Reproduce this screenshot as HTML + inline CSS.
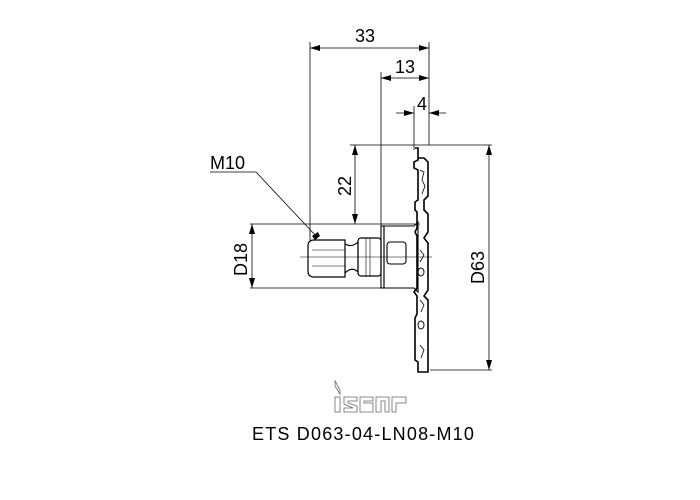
<!DOCTYPE html>
<html><head><style>
html,body{margin:0;padding:0;background:#fff;width:700px;height:500px;overflow:hidden}
</style></head><body>
<svg width="700" height="500" xmlns="http://www.w3.org/2000/svg" font-family="Liberation Sans, sans-serif">
<defs>
<marker id="a" markerWidth="10" markerHeight="6" refX="10" refY="3" orient="auto-start-reverse" markerUnits="userSpaceOnUse"><path d="M0,0 L10,3 L0,6z" fill="#000"/></marker>
</defs>
<g stroke="#000" stroke-width="0.8" fill="none">
<line x1="310" y1="42" x2="310" y2="240"/>
<line x1="429" y1="42" x2="429" y2="145"/>
<line x1="381" y1="72" x2="381" y2="240"/>
<line x1="414" y1="106" x2="414" y2="150"/>
<line x1="310" y1="48" x2="429" y2="48" marker-start="url(#a)" marker-end="url(#a)"/>
<line x1="381" y1="78" x2="429" y2="78" marker-start="url(#a)" marker-end="url(#a)"/>
<line x1="396" y1="113" x2="414" y2="113" marker-end="url(#a)"/>
<line x1="446" y1="113" x2="429" y2="113" marker-end="url(#a)"/>
<line x1="350" y1="145" x2="492" y2="145"/>
<line x1="355" y1="145" x2="355" y2="224" marker-start="url(#a)" marker-end="url(#a)"/>
<line x1="250" y1="224" x2="420" y2="224"/>
<line x1="250" y1="288" x2="385" y2="288"/>
<line x1="252" y1="224" x2="252" y2="288" marker-start="url(#a)" marker-end="url(#a)"/>
<line x1="489" y1="145" x2="489" y2="370" marker-start="url(#a)" marker-end="url(#a)"/>
<line x1="430" y1="370" x2="492" y2="370"/>
<line x1="210" y1="172" x2="256" y2="172"/>
<line x1="256" y1="172" x2="316" y2="236"/>
<line x1="300" y1="257" x2="432" y2="257" stroke-width="0.5"/>
<path d="M345,240 L314,240 Q308,240 308,246 L308,271 Q308,277 314,277 L345,277 Z" stroke-width="1.2"/>
<line x1="312" y1="250" x2="345" y2="250" stroke-width="0.5"/>
<line x1="312" y1="266" x2="345" y2="266" stroke-width="0.5"/>
<path d="M345,244 Q352,248 358,242 L358,272 Q352,266 345,273" stroke-width="1.1"/>
<rect x="358" y="238" width="23" height="38" rx="3" stroke-width="1.2"/>
<line x1="366" y1="238" x2="366" y2="276" stroke-width="0.6"/>
<line x1="370" y1="238" x2="370" y2="276" stroke-width="0.6"/>
<rect x="381" y="226" width="3" height="62" stroke-width="1.1"/>
<path d="M384,226 L414,226 L418,222 L418,292 L414,288 L384,288 Z" stroke-width="1.1"/>
<rect x="387" y="242" width="19" height="22" rx="3" stroke-width="1.1"/>
<path d="M415,148 L418,148 L418,160 L414,162 L414,168 L418,170 L418,200 L415,202 L415,210 L417,212 L417,228 L415,232 L417,236 L417,288 L414,292 L417,296 L417,314 L415,318 L415,360 L418,362 L418,372 L428,372 L428,300 L424,296 L428,290 L428,243 L424,238 L428,232 L428,214 L424,210 L424,200 L428,196 L428,162 L424,158 L418,158" stroke-width="1.6"/>
<path d="M420,170 L424,172 L422,180 L425,186 L422,194" stroke-width="0.8"/>
<path d="M420,250 L424,255 L420,262" stroke-width="0.8"/>
<ellipse cx="421" cy="272" rx="3" ry="4" stroke-width="0.9"/>
<ellipse cx="421" cy="325" rx="3" ry="4" stroke-width="0.9"/>
<path d="M420,300 L424,305 L421,312" stroke-width="0.8"/>
<path d="M420,345 L424,350 L421,358" stroke-width="0.8"/>
</g>
<path d="M312,236 L318,232 L320,236 L315,240 Z" fill="#000"/>
<g font-size="18" fill="#000">
<text x="355" y="48" dy="-6">33</text>
<text x="395" y="78" dy="-5">13</text>
<text x="417" y="110">4</text>
<text x="210" y="169">M10</text>
<text transform="translate(351,196) rotate(-90)">22</text>
<text transform="translate(247,276) rotate(-90)">D18</text>
<text transform="translate(484,284) rotate(-90)">D63</text>
<text x="252" y="440" font-size="18" letter-spacing="1.2">ETS  D063-04-LN08-M10</text>
</g>
<g stroke="#666" stroke-width="0.8" fill="none">
<path d="M335,381 L340,390 L340,394 L335,386 Z"/>
<rect x="335" y="397" width="5" height="15"/>
<path d="M344,397 L357,397 L357,401 L348,401 L348,403 L357,406 L357,412 L344,412 L344,408 L353,408 L344,404 Z"/>
<path d="M360,397 L373,397 L373,401 L364,401 L364,403 L373,403 L373,412 L360,412 Z"/>
<path d="M376,397 L389,397 L389,412 L385,412 L385,401 L381,401 L381,412 L376,412 Z"/>
<path d="M392,397 L406,397 L406,403 L396,403 L396,412 L392,412 Z"/>
</g>
</svg>
</body></html>
